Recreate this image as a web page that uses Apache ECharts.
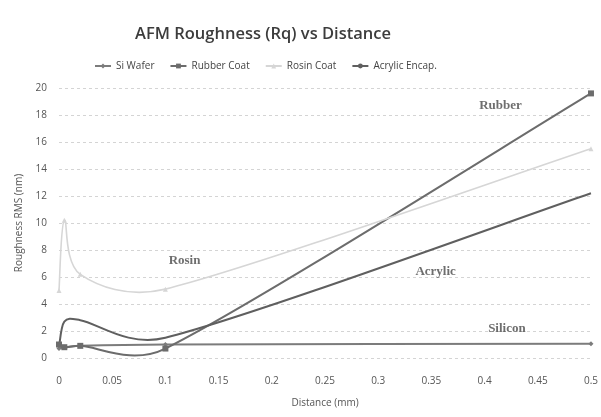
<!DOCTYPE html>
<html><head><meta charset="utf-8">
<script src="https://cdn.jsdelivr.net/npm/echarts@6/dist/echarts.min.js"></script>
<style>html,body{margin:0;padding:0;background:#fff}#c{width:601px;height:417px}</style>
</head><body><div id="c"></div>
<script>
const distances = [0, 0.005, 0.02, 0.1, 0.5];
const siWafer   = [0.7, 0.8, 0.9, 1.0, 1.05];
const rubber    = [1.0, 0.8, 0.9, 0.7, 19.6];
const rosin     = [5.0, 10.2, 6.2, 5.1, 15.5];
const acrylic   = [0.8, 2.7, 2.8, 1.5, 12.2];
const seriesNames = ['Si Wafer', 'Rubber Coat', 'Rosin Coat', 'Acrylic Encap.'];
const xTicks = [0, 0.05, 0.1, 0.15, 0.2, 0.25, 0.3, 0.35, 0.4, 0.45, 0.5];
const yTicks = [0, 2, 4, 6, 8, 10, 12, 14, 16, 18, 20];
const labels = [
  {text: 'Rubber', x: 0.415, y: 18.7},
  {text: 'Rosin', x: 0.118, y: 7.2},
  {text: 'Acrylic', x: 0.354, y: 6.4},
  {text: 'Silicon', x: 0.421, y: 2.2}
];

const pair = arr => distances.map((d, i) => [d, arr[i]]);
const font = '"Open Sans", "Liberation Sans", sans-serif';
const TENSION = 1 / 6, CAP = 0.45;
const chart = echarts.init(document.getElementById('c'), null, {renderer: 'canvas'});

// Spreadsheet-style smoothed curve, built on the library's coordinate mapping
function smoothPath(pts) {
  const n = pts.length;
  const seg = i => Math.hypot(pts[i + 1][0] - pts[i][0], pts[i + 1][1] - pts[i][1]);
  const cps = pts.map((p, i) => {
    const prev = pts[Math.max(0, i - 1)], next = pts[Math.min(n - 1, i + 1)];
    const vx = next[0] - prev[0], vy = next[1] - prev[1];
    const lv = Math.hypot(vx, vy) || 1;
    const ux = vx / lv, uy = vy / lv;
    const lenOut = i < n - 1 ? Math.min(TENSION * lv, CAP * seg(i)) : 0;
    const lenIn = i > 0 ? Math.min(TENSION * lv, CAP * seg(i - 1)) : 0;
    return {out: [p[0] + ux * lenOut, p[1] + uy * lenOut], inn: [p[0] - ux * lenIn, p[1] - uy * lenIn]};
  });
  let d = 'M' + pts[0][0] + ' ' + pts[0][1];
  for (let i = 0; i < n - 1; i++) {
    const a = cps[i].out, b = cps[i + 1].inn, e = pts[i + 1];
    d += ' C' + a[0] + ' ' + a[1] + ' ' + b[0] + ' ' + b[1] + ' ' + e[0] + ' ' + e[1];
  }
  return d;
}

const colors = ['#7c7c7c', '#6c6c6c', '#d6d6d6', '#5f5f5f'];
const widths = [2, 2, 1.6, 2];
const symbols = ['diamond', 'rect', 'triangle', 'none'];
const sizes = [5, 6, 5, 4];
const dataSets = [siWafer, rubber, rosin, acrylic];

const series = [];
dataSets.forEach((arr, k) => {
  series.push({
    name: seriesNames[k], type: 'line', data: pair(arr),
    symbol: symbols[k], symbolSize: sizes[k], showSymbol: symbols[k] !== 'none',
    lineStyle: {color: colors[k], width: widths[k], opacity: 0},
    itemStyle: {color: colors[k]}, emphasis: {disabled: true}, z: 3
  });
});
dataSets.forEach((arr, k) => {
  series.push({
    name: seriesNames[k], type: 'custom', data: [[0, 0]], silent: true, z: 2,
    renderItem: (params, api) => {
      const pts = pair(arr).map(p => api.coord(p));
      return {type: 'path', shape: {pathData: smoothPath(pts)},
        style: {fill: 'none', stroke: colors[k], lineWidth: widths[k]}};
    }
  });
});
series.push({
  type: 'scatter', silent: true, symbolSize: 0,
  data: labels.map(l => ({value: [l.x, l.y], name: l.text})),
  label: {show: true, position: 'inside', formatter: p => p.name,
    fontFamily: '"Liberation Serif", "DejaVu Serif", serif', fontWeight: 'bold',
    fontSize: 13, color: '#4a4a4a'},
  z: 5
});

chart.setOption({
  animation: false,
  backgroundColor: '#fff',
  title: {text: 'AFM Roughness (Rq) vs Distance', left: 258, top: 21, textAlign: 'center',
    textStyle: {fontFamily: font, fontSize: 16.5, fontWeight: 600, color: '#3c3c3c'}},
  legend: {data: seriesNames.map(n => ({name: n, lineStyle: {opacity: 1}})),
    top: 56, left: 89, width: 440, itemGap: 15, itemWidth: 16, itemHeight: 6,
    textStyle: {fontFamily: font, fontSize: 10, color: '#444'}, selectedMode: false},
  grid: {left: 59, right: 10, top: 88, bottom: 59},
  xAxis: {type: 'value', min: 0, max: 0.5, interval: 0.05,
    name: 'Distance (mm)', nameLocation: 'middle', nameGap: 40,
    nameTextStyle: {fontFamily: font, fontSize: 10, color: '#555'},
    axisLine: {show: false}, axisTick: {show: false},
    splitLine: {show: false},
    axisLabel: {margin: 18, fontFamily: font, fontSize: 10, color: '#555',
      formatter: v => { const t = xTicks.find(x => Math.abs(x - v) < 1e-9); return t === undefined ? '' : String(t); }}},
  yAxis: {type: 'value', min: 0, max: 20, interval: 2,
    name: 'Roughness RMS (nm)', nameLocation: 'middle', nameGap: 35,
    nameTextStyle: {fontFamily: font, fontSize: 10, color: '#555'},
    axisLine: {show: false}, axisTick: {show: false},
    splitLine: {show: true, lineStyle: {color: '#d4d4d4', type: [3, 3], width: 1}},
    axisLabel: {margin: 12, fontFamily: font, fontSize: 10, color: '#555',
      formatter: v => { const t = yTicks.find(y => Math.abs(y - v) < 1e-9); return t === undefined ? '' : String(t); }}},
  series
});
</script></body></html>
